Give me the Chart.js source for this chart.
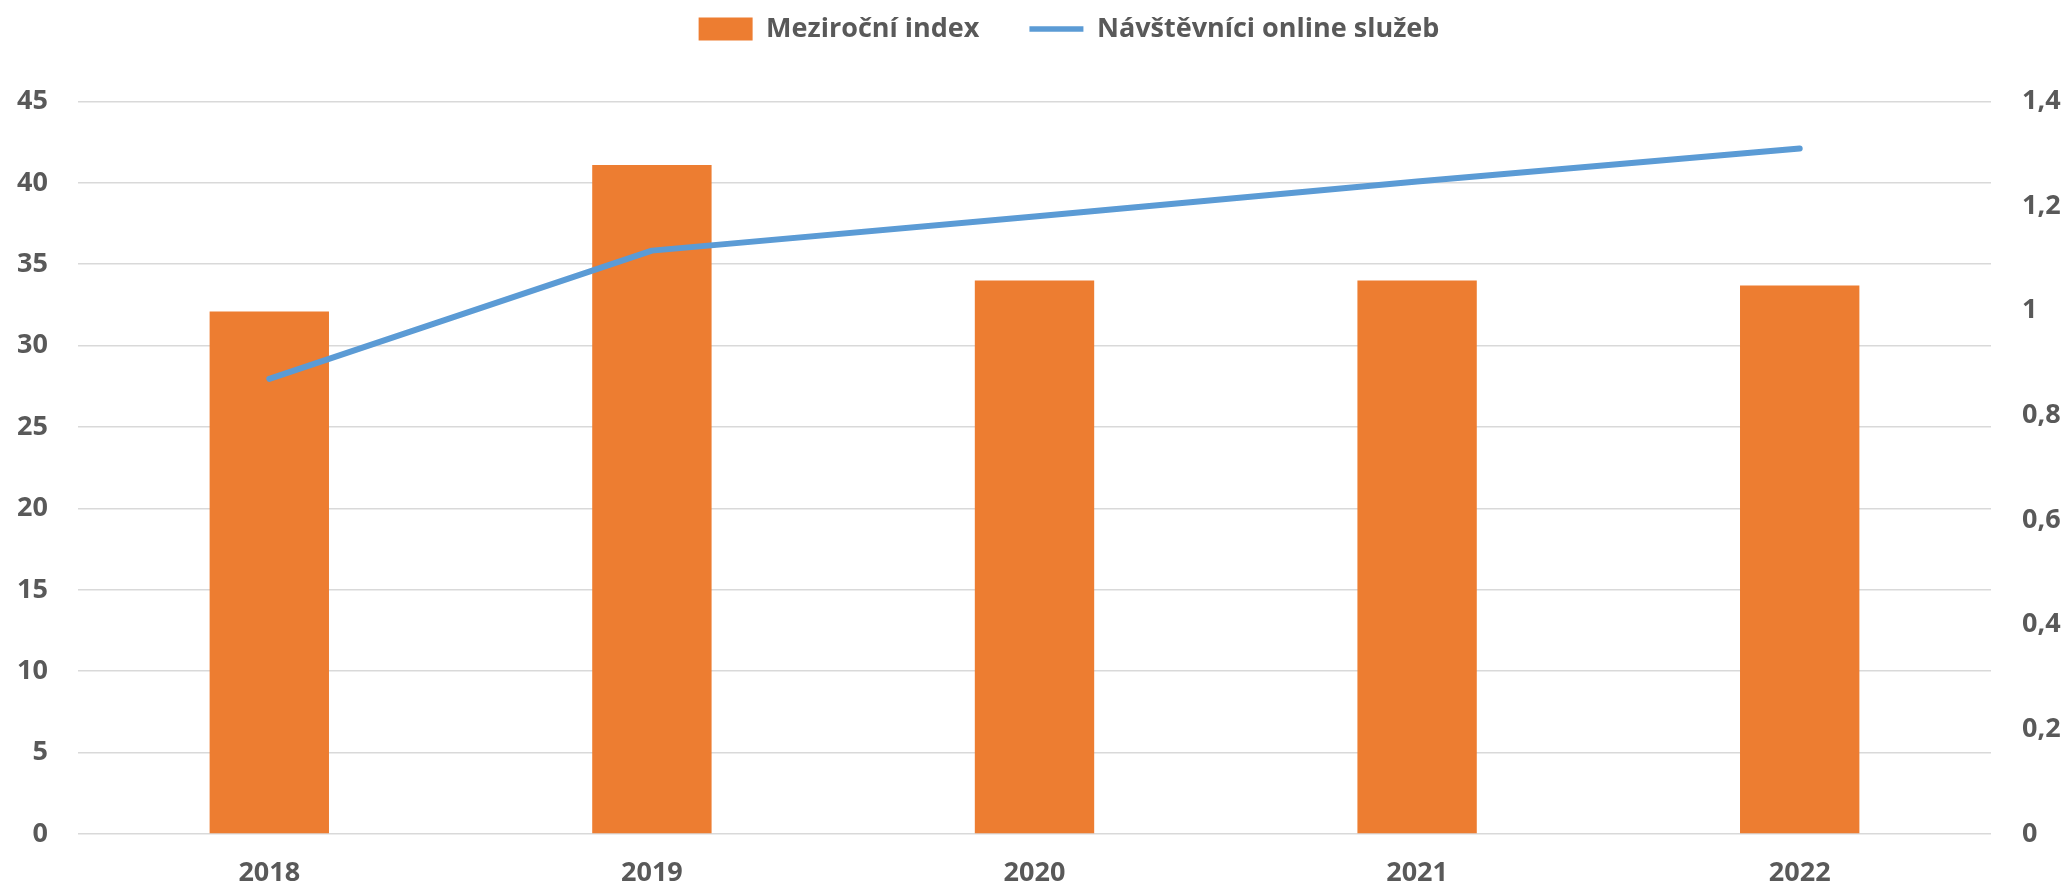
<!DOCTYPE html>
<html>
<head>
<meta charset="utf-8">
<script src="https://cdn.jsdelivr.net/npm/chart.js@4"></script>
<style>
html,body{margin:0;padding:0;background:#fff;}
#wrap{width:2066px;height:890px;position:relative;}
</style>
</head>
<body>
<div id="wrap"><canvas id="c" width="2066" height="890"></canvas></div>
<script>
const categories = ['2018', '2019', '2020', '2021', '2022'];
const barLabel = 'Meziroční index';
const lineLabel = 'Návštěvníci online služeb';
const barValues = [32.1, 41.1, 34.0, 34.0, 33.7];
const lineValues = [0.87, 1.115, 1.18, 1.247, 1.31];
const leftTicks = ['0', '5', '10', '15', '20', '25', '30', '35', '40', '45'];
const rightTicks = ['0', '0,2', '0,4', '0,6', '0,8', '1', '1,2', '1,4'];

const ORANGE = '#ed7d31';
const BLUE = '#5b9bd5';
const TEXT = '#595959';
const GRID = '#d9d9d9';

const legendTweak = {
  id: 'legendTweak',
  beforeLayout(chart) {
    const lg = chart.legend;
    if (lg && !lg._wrapped) {
      const f = lg.fit;
      lg.fit = function () { f.call(this); this.height = 136; };
      lg._wrapped = true;
    }
  },
  afterLayout(chart) {
    const lg = chart.legend;
    if (lg) { lg.left += 36; lg.right += 36; }
  }
};

new Chart(document.getElementById('c'), {
  data: {
    labels: categories,
    datasets: [
      {
        type: 'line', label: lineLabel, data: lineValues, yAxisID: 'y2',
        borderColor: BLUE, backgroundColor: BLUE, borderWidth: 6,
        pointRadius: 0, tension: 0, borderCapStyle: 'round', borderJoinStyle: 'round',
        order: 0
      },
      {
        type: 'bar', label: barLabel, data: barValues, yAxisID: 'y',
        backgroundColor: ORANGE, borderWidth: 0,
        categoryPercentage: 1, barPercentage: 0.312,
        order: 1
      }
    ]
  },
  options: {
    responsive: false,
    animation: false,
    layout: { padding: { top: -34.5, left: 0, right: 0, bottom: 0 } },
    plugins: {
      tooltip: { enabled: false },
      legend: {
        position: 'top',
        labels: {
          color: TEXT,
          font: { family: 'Open Sans', weight: 'bold', size: 27 },
          padding: 50,
          usePointStyle: true,
          pointStyleWidth: 54,
          boxHeight: 23,
          generateLabels() {
            return [
              { text: barLabel, fillStyle: ORANGE, strokeStyle: ORANGE, lineWidth: 0, pointStyle: 'rect', fontColor: TEXT, datasetIndex: 1 },
              { text: lineLabel, fillStyle: BLUE, strokeStyle: BLUE, lineWidth: 5.5, pointStyle: 'line', fontColor: TEXT, datasetIndex: 0 }
            ];
          }
        }
      }
    },
    scales: {
      x: {
        grid: { display: false, drawTicks: false },
        border: { display: false },
        ticks: { color: TEXT, font: { family: 'Open Sans', weight: 'bold', size: 27 }, padding: 23 },
        afterFit(s) { s.height = 56; }
      },
      y: {
        position: 'left', min: 0, max: 45,
        ticks: { stepSize: 5, color: TEXT, font: { family: 'Open Sans', weight: 'bold', size: 27 }, padding: 30,
          callback: (v, i) => leftTicks[i] },
        grid: { color: GRID, lineWidth: 1.6, drawTicks: false },
        border: { display: false },
        afterFit(s) { s.width = 78; }
      },
      y2: {
        position: 'right', min: 0, max: 1.4,
        ticks: { stepSize: 0.2, color: TEXT, font: { family: 'Open Sans', weight: 'bold', size: 27 }, padding: 31,
          callback: (v, i) => rightTicks[i] },
        grid: { display: false, drawTicks: false },
        border: { display: false },
        afterFit(s) { s.width = 75; }
      }
    }
  },
  plugins: [legendTweak]
});
</script>
</body>
</html>
